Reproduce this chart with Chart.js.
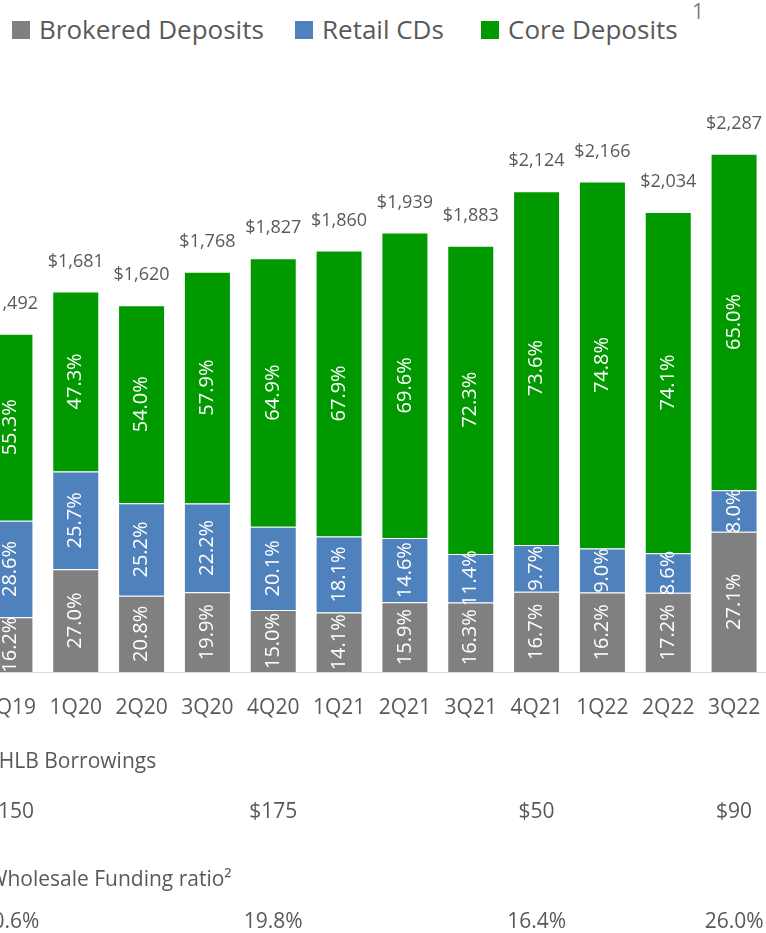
<!DOCTYPE html>
<html>
<head>
<meta charset="utf-8">
<script src="https://cdn.jsdelivr.net/npm/chart.js@4.4.0/dist/chart.umd.min.js"></script>
<style>
  html, body { margin: 0; padding: 0; background: #fff; overflow: hidden; }
  body { width: 766px; height: 933px; position: relative; font-family: 'Open Sans', sans-serif; }
  #legend { position: absolute; left: 0; top: 0; color: #595959; font-size: 26px; white-space: nowrap; }
  .item { position: absolute; top: 11px; display: flex; align-items: baseline; }
  .swatch { display: inline-block; width: 18px; height: 18px; margin-right: 9px; }
  .note { position: absolute; left: 692px; top: -3px; font-size: 21px; color: #7f7f7f; }
  #wrap { position: absolute; left: -23px; top: 0; width: 790px; height: 933px; }
</style>
</head>
<body>
<div id="legend"></div>
<div id="wrap"><canvas id="deposits-chart"></canvas></div>
<script>
// Data
const quarters = ['4Q19', '1Q20', '2Q20', '3Q20', '4Q20', '1Q21', '2Q21', '3Q21', '4Q21', '1Q22', '2Q22', '3Q22'];
const totals = [1492, 1681, 1620, 1768, 1827, 1860, 1939, 1883, 2124, 2166, 2034, 2287];
const brokeredPct = [16.2, 27.0, 20.8, 19.9, 15.0, 14.1, 15.9, 16.3, 16.7, 16.2, 17.2, 27.1];
const retailPct = [28.6, 25.7, 25.2, 22.2, 20.1, 18.1, 14.6, 11.4, 9.7, 9.0, 8.6, 8.0];
const corePct = [55.3, 47.3, 54.0, 57.9, 64.9, 67.9, 69.6, 72.3, 73.6, 74.8, 74.1, 65.0];

const seriesNames = ['Brokered Deposits', 'Retail CDs', 'Core Deposits'];
const seriesColors = ['#808080', '#4f81bd', '#009900'];

// FHLB / wholesale table under the chart
const tableQuarters = ['4Q19', '4Q20', '4Q21', '3Q22'];
const fhlbBorrowings = ['$150', '$175', '$50', '$90'];
const wholesaleRatio = ['20.6%', '19.8%', '16.4%', '26.0%'];

// Legend (HTML)
const legendLefts = [12, 295, 481];
const legendDiv = document.getElementById('legend');
seriesNames.forEach((name, i) => {
    legendDiv.insertAdjacentHTML('beforeend',
        `<div class="item" style="left:${legendLefts[i]}px"><span class="swatch" style="background:${seriesColors[i]}"></span>${name}</div>`);
});
legendDiv.insertAdjacentHTML('beforeend', '<div class="note">1</div>');

// dollar amount of each segment = share of the quarter's total
const toAmounts = (pcts) => pcts.map((p, i) => p / 100 * totals[i]);

const labelPlugin = {
    id: 'barLabels',
    afterDatasetsDraw(chart) {
        const ctx = chart.ctx;
        ctx.save();
        ctx.textAlign = 'center';
        ctx.textBaseline = 'middle';

        // rotated % inside segments
        ctx.fillStyle = '#ffffff';
        ctx.font = '20px "Open Sans"';
        chart.data.datasets.forEach((ds, di) => {
            chart.getDatasetMeta(di).data.forEach((bar, i) => {
                ctx.save();
                ctx.translate(bar.x, (bar.y + bar.base) / 2);
                ctx.rotate(-Math.PI / 2);
                ctx.fillText(ds.pct[i].toFixed(1) + '%', 0, 0);
                ctx.restore();
            });
        });

        // totals above bars
        ctx.fillStyle = '#595959';
        ctx.font = '18px "Open Sans"';
        chart.getDatasetMeta(2).data.forEach((bar, i) => {
            ctx.fillText('$' + totals[i].toLocaleString('en-US'), bar.x, bar.y - 30);
        });

        // table below
        const xScale = chart.scales.x;
        ctx.font = '21px "Open Sans"';
        ctx.textAlign = 'left';
        ctx.fillText('FHLB Borrowings', chart.chartArea.left + 11, 762);
        ctx.fillText('Wholesale Funding ratio\u00B2', chart.chartArea.left + 11, 880);
        ctx.textAlign = 'center';
        tableQuarters.forEach((q, i) => {
            const x = xScale.getPixelForValue(quarters.indexOf(q));
            ctx.fillText(fhlbBorrowings[i], x, 812);
            ctx.fillText(wholesaleRatio[i], x, 922);
        });
        ctx.restore();
    }
};

const pctSeries = [brokeredPct, retailPct, corePct];

new Chart(document.getElementById('deposits-chart'), {
    type: 'bar',
    data: {
        labels: quarters,
        datasets: seriesNames.map((name, i) => ({
            label: name,
            data: toAmounts(pctSeries[i]),
            pct: pctSeries[i],
            backgroundColor: seriesColors[i],
            borderColor: 'rgba(255, 255, 255, 0.4)',
            borderWidth: 1,
            barPercentage: 0.714,
            categoryPercentage: 1.0,
        }))
    },
    options: {
        responsive: true,
        maintainAspectRatio: false,
        animation: false,
        layout: { autoPadding: false, padding: { top: 106, left: 0, right: 0, bottom: 0 } },
        plugins: {
            legend: { display: false },
            tooltip: { enabled: false },
        },
        scales: {
            x: {
                stacked: true,
                grid: { display: false, drawTicks: false },
                border: { display: true, color: '#d9d9d9', width: 1 },
                ticks: { color: '#595959', font: { family: 'Open Sans', size: 21 }, padding: 23, maxRotation: 0 },
                afterFit: (scale) => { scale.height = 261; scale.paddingLeft = 0; scale.paddingRight = 0; }
            },
            y: {
                stacked: true,
                display: false,
                min: 0,
                max: 2500,
            }
        }
    },
    plugins: [labelPlugin]
});
</script>
</body>
</html>
